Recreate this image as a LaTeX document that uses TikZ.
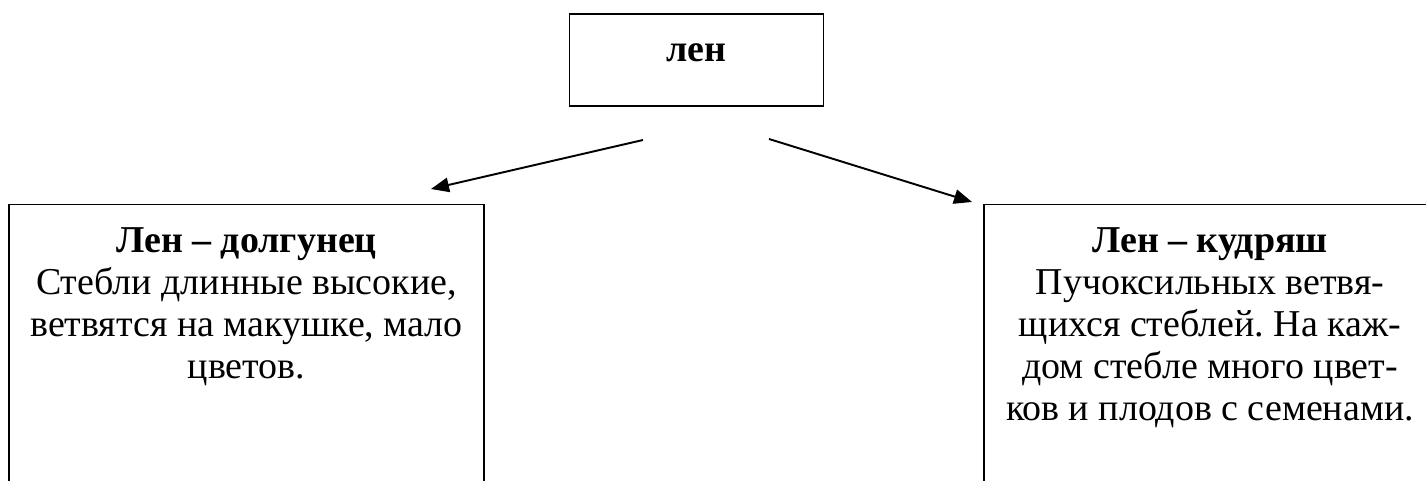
\documentclass[tikz,border=0pt]{standalone}
\usepackage{fontspec}
\setmainfont{Liberation Serif}
\frenchspacing
\usetikzlibrary{arrows.meta}
\tikzset{>={Triangle[length=0.36cm,width=0.29cm]}}
\tikzset{topbox/.style={draw,line width=0.8pt,minimum width=5.07cm,minimum height=1.84cm,inner sep=0pt,text height=0.5cm,text depth=0.42cm,font=\fontsize{21.6}{23.9}\selectfont\bfseries}}
\tikzset{sortbox/.style={draw,line width=0.8pt,anchor=north,align=flush center,inner xsep=0.2cm,inner ysep=0.46cm,text depth=8cm,font=\fontsize{21.6}{23.9}\selectfont}}

\begin{document}
\begin{tikzpicture}
        \useasboundingbox (0,0) rectangle (28.52,9.62);
        \clip (0,0) rectangle (28.52,9.62);
        \coordinate (a1) at (12.86,6.82);
        \coordinate (a2) at (8.62,5.84);
        \coordinate (b1) at (15.38,6.84);
        \coordinate (b2) at (19.44,5.58);
        \node[topbox] (len) at (13.93,8.42) {лен};
        \node[sortbox,text width=9.1cm] (dolg) at (4.93,5.54)
          {\textbf{Лен – долгунец}\\Стебли длинные высокие,\\ветвятся на макушке, мало\\цветов.};
        \node[sortbox,text width=8.64cm] (kudr) at (24.2,5.54)
          {\textbf{Лен – кудряш}\\Пучоксильных ветвя-\\щихся стеблей. На каж-\\дом стебле много цвет-\\ков и плодов с семенами.};
        \draw[->,line width=1.1pt] (a1)--(a2);
        \draw[->,line width=1.1pt] (b1)--(b2);
      \end{tikzpicture}
\end{document}
